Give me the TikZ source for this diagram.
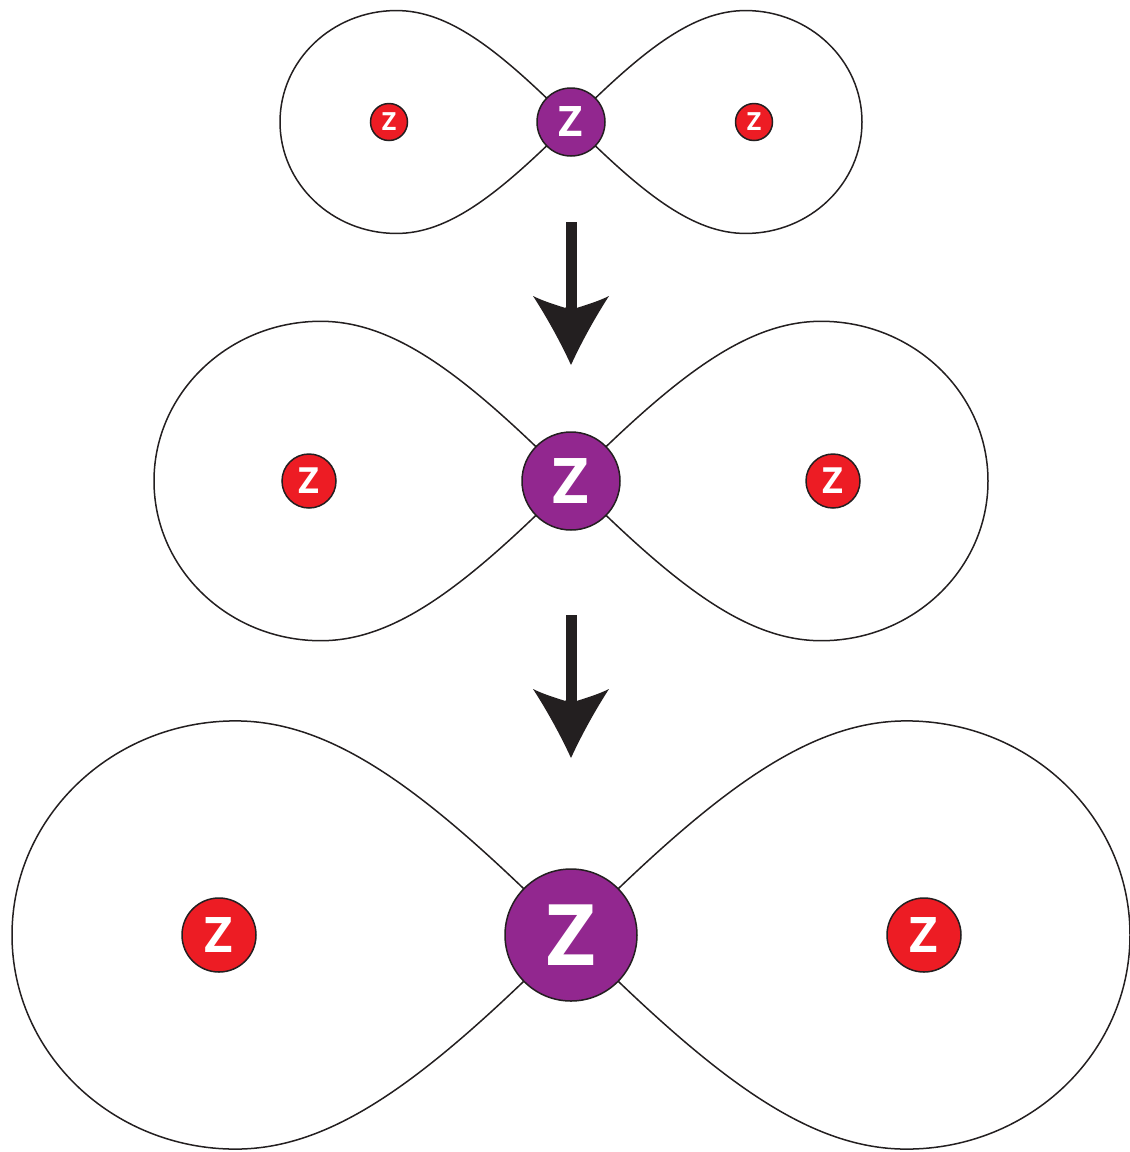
\documentclass[tikz,border=0pt]{standalone}
\usepackage{fontspec}
\setmainfont{Open Sans}
\definecolor{zred}{HTML}{ED1C24}
\definecolor{zpurple}{HTML}{92278F}
\definecolor{ink}{HTML}{231F20}
\tikzset{
  lobe/.style={draw=ink, line width=1.5pt},
  core/.style={circle, fill=zpurple, draw=ink, line width=1.5pt, text=white, inner sep=0pt},
  sat/.style={circle, fill=zred, draw=ink, line width=1.5pt, text=white, inner sep=0pt},
  shaft/.style={draw=ink, line width=11pt},
  orbital/.pic={
    \draw[lobe] (0,0) .. controls (-0.25,0.25) and (-0.42,0.383) .. (-0.6,0.383)
      .. controls (-0.82,0.383) and (-1,0.212) .. (-1,0)
      .. controls (-1,-0.212) and (-0.82,-0.383) .. (-0.6,-0.383)
      .. controls (-0.42,-0.383) and (-0.25,-0.25) .. (0,0);
    \draw[lobe] (0,0) .. controls (0.25,0.25) and (0.42,0.383) .. (0.6,0.383)
      .. controls (0.82,0.383) and (1,0.212) .. (1,0)
      .. controls (1,-0.212) and (0.82,-0.383) .. (0.6,-0.383)
      .. controls (0.42,-0.383) and (0.25,-0.25) .. (0,0);
  },
  headpic/.pic={
    \fill[ink] (5.5,-1) -- (5.5,0) .. controls (15,-3) and (28,-7) .. (38,-12)
      .. controls (25,8) and (11,33) .. (0,57)
      .. controls (-11,33) and (-25,8) .. (-38,-12)
      .. controls (-28,-7) and (-15,-3) .. (-5.5,0) -- (-5.5,-1) -- cycle;
  }
}
\begin{document}
\begin{tikzpicture}[x=1pt,y=-1pt]
\useasboundingbox (0,0) rectangle (1130,1152);
% figure 1
\pic[scale=291] at (571,122) {orbital};
\node[core, minimum size=68pt, font=\fontsize{42}{42}\selectfont\bfseries] (c1) at (571,122) {Z};
\node[sat, minimum size=37pt, font=\fontsize{25}{25}\selectfont\bfseries] (l1) at (389,122) {Z};
\node[sat, minimum size=37pt, font=\fontsize{25}{25}\selectfont\bfseries] (r1) at (754,122) {Z};
% arrow 1
\coordinate (a1s) at (571,222);
\coordinate (a1n) at (571,308);
\draw[shaft] (a1s) -- (a1n) pic {headpic};
% figure 2
\pic[scale=417] at (571,481) {orbital};
\node[core, minimum size=98pt, font=\fontsize{63}{63}\selectfont\bfseries] (c2) at (571,481) {Z};
\node[sat, minimum size=54pt, font=\fontsize{36}{36}\selectfont\bfseries] (l2) at (309,481) {Z};
\node[sat, minimum size=54pt, font=\fontsize{36}{36}\selectfont\bfseries] (r2) at (833,481) {Z};
% arrow 2
\coordinate (a2s) at (571,615);
\coordinate (a2n) at (571,701);
\draw[shaft] (a2s) -- (a2n) pic {headpic};
% figure 3
\pic[scale=559] at (571,935) {orbital};
\node[core, minimum size=132pt, font=\fontsize{85}{85}\selectfont\bfseries] (c3) at (571,935) {Z};
\node[sat, minimum size=74pt, font=\fontsize{49}{49}\selectfont\bfseries] (l3) at (219,935) {Z};
\node[sat, minimum size=74pt, font=\fontsize{49}{49}\selectfont\bfseries] (r3) at (924,935) {Z};
\end{tikzpicture}
\end{document}
